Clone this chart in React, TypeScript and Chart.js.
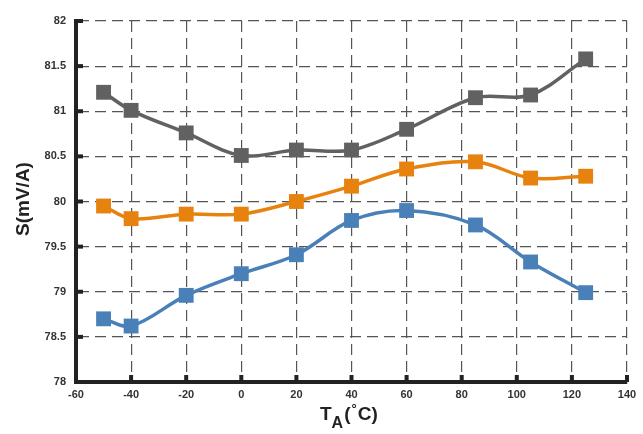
import React, { useEffect, useRef } from "react";
import { Chart, registerables } from "chart.js";

Chart.register(...registerables);

const temps = [-50, -40, -20, 0, 20, 40, 60, 85, 105, 125];
const grayValues = [81.21, 81.01, 80.76, 80.51, 80.57, 80.57, 80.8, 81.15, 81.18, 81.58];
const orangeValues = [79.95, 79.81, 79.86, 79.86, 80.0, 80.17, 80.36, 80.44, 80.26, 80.28];
const blueValues = [78.7, 78.62, 78.96, 79.2, 79.41, 79.79, 79.9, 79.74, 79.33, 78.99];
const xTicks = [-60, -40, -20, 0, 20, 40, 60, 80, 100, 120, 140];
const yTicks = [78, 78.5, 79, 79.5, 80, 80.5, 81, 81.5, 82];
const yTitle = "S(mV/A)";

const FONT = "'Liberation Sans', Arial, sans-serif";

const toPoints = (vals: number[]) => temps.map((t, i) => ({ x: t, y: vals[i] }));

const decorPlugin = {
  id: "decor",
  afterDatasetsDraw(chart: any) {
    const { ctx, chartArea, scales } = chart;
    const xs = scales.x;
    const ys = scales.y;
    ctx.save();
    ctx.fillStyle = "#222";
    xTicks.forEach((t) => {
      const px = xs.getPixelForValue(t);
      ctx.fillRect(px - 2, chartArea.bottom - 7, 4, 7);
    });
    yTicks.forEach((v) => {
      const py = ys.getPixelForValue(v);
      ctx.fillRect(chartArea.left, py - 2, 7, 4);
    });
    ctx.restore();
  },
  afterDraw(chart: any) {
    const { ctx } = chart;
    ctx.save();
    ctx.fillStyle = "#222";
    ctx.textBaseline = "alphabetic";
    let x = 320;
    const base = 420;
    ctx.font = `bold 19px ${FONT}`;
    ctx.fillText("T", x, base);
    x += ctx.measureText("T").width;
    ctx.font = `bold 16px ${FONT}`;
    ctx.fillText("A", x, base + 8);
    x += ctx.measureText("A").width + 1;
    ctx.font = `bold 19px ${FONT}`;
    ctx.fillText("(", x, base);
    x += ctx.measureText("(").width + 1;
    ctx.font = `bold 13px ${FONT}`;
    ctx.fillText("°", x, base - 7);
    x += ctx.measureText("°").width + 1;
    ctx.font = `bold 19px ${FONT}`;
    ctx.fillText("C)", x, base);
    ctx.translate(29, 199);
    ctx.rotate(-Math.PI / 2);
    ctx.textAlign = "center";
    ctx.font = `bold 19px ${FONT}`;
    ctx.fillText(yTitle, 0, 0);
    ctx.restore();
  },
};

export default function App() {
  const canvasRef = useRef<HTMLCanvasElement>(null);

  useEffect(() => {
    document.body.style.margin = "0";
    const canvas = canvasRef.current;
    if (!canvas) return;
    const mk = (label: string, vals: number[], color: string) => ({
      label,
      data: toPoints(vals),
      borderColor: color,
      backgroundColor: color,
      borderWidth: 3.5,
      pointStyle: "rect" as const,
      pointRadius: 10.5,
      pointHoverRadius: 10.5,
      pointBorderWidth: 0,
      tension: 0.35,
    });
    const chart = new Chart(canvas, {
      type: "line",
      data: {
        datasets: [
          mk("gray", grayValues, "#616161"),
          mk("orange", orangeValues, "#E8820E"),
          mk("blue", blueValues, "#4A80B8"),
        ],
      },
      plugins: [decorPlugin],
      options: {
        animation: false,
        responsive: true,
        maintainAspectRatio: false,
        layout: { padding: { top: 21, right: 16, left: 0, bottom: 0 } },
        plugins: { legend: { display: false }, tooltip: { enabled: false } },
        scales: {
          x: {
            type: "linear",
            min: -60,
            max: 140,
            afterBuildTicks: (s: any) => {
              s.ticks = xTicks.map((v) => ({ value: v }));
            },
            afterFit: (s: any) => {
              s.height = 52;
            },
            grid: { color: "#555", lineWidth: 1.2, drawTicks: false },
            border: { display: true, color: "#222", width: 4, dash: [11, 6] },
            ticks: {
              padding: 6,
              color: "#333",
              font: { family: FONT, size: 11, weight: "bold" },
              maxRotation: 0,
              callback: (v: any) => String(v),
            },
          },
          y: {
            type: "linear",
            min: 78,
            max: 82,
            afterBuildTicks: (s: any) => {
              s.ticks = yTicks.map((v) => ({ value: v }));
            },
            afterFit: (s: any) => {
              s.width = 76;
            },
            grid: { color: "#555", lineWidth: 1.2, drawTicks: false },
            border: { display: true, color: "#222", width: 4, dash: [11, 6] },
            ticks: {
              padding: 10,
              color: "#333",
              font: { family: FONT, size: 11, weight: "bold" },
              callback: (v: any) => String(v),
            },
          },
        },
      },
    });
    return () => chart.destroy();
  }, []);

  return (
    <div style={{ position: "fixed", left: 0, top: 0, width: 643, height: 434, background: "#fff" }}>
      <canvas ref={canvasRef} />
    </div>
  );
}
